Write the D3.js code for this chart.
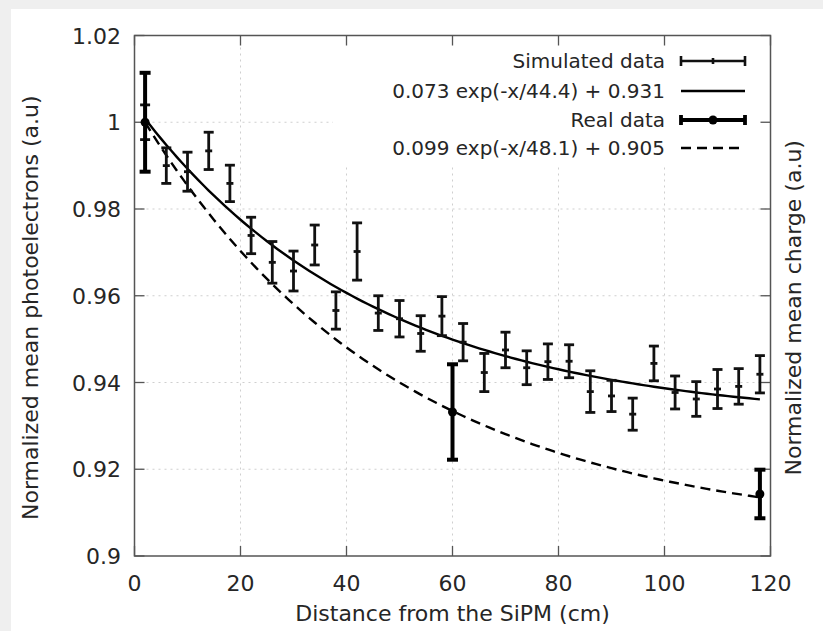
<!DOCTYPE html>
<html lang="en">
<head>
<meta charset="UTF-8">
<title>Normalized mean photoelectrons vs distance</title>
<style>
    body { margin: 0; background: #f0f0f0; }
    svg { display: block; font-family: 'DejaVu Sans', Verdana, sans-serif; }
    .tick-label { font-size: 22px; fill: #262626; }
    .title { font-size: 22px; fill: #262626; }
    .legend text { font-size: 20px; fill: #262626; }
</style>
</head>
<body>
<div id="chart"></div>
<script src="https://cdn.jsdelivr.net/npm/d3@7"></script>
<script>
// ---- data ----
const simX = [2, 6, 10, 14, 18, 22, 26, 30, 34, 38, 42, 46, 50, 54, 58,
              62, 66, 70, 74, 78, 82, 86, 90, 94, 98, 102, 106, 110, 114, 118];
const simY = [1.000, 0.9900, 0.9886, 0.9934, 0.9859, 0.9739, 0.9677, 0.9657, 0.9717, 0.9566,
              0.9702, 0.9560, 0.9547, 0.9513, 0.9553, 0.9493, 0.9423, 0.9475, 0.9434, 0.9448,
              0.9449, 0.9379, 0.9369, 0.9327, 0.9444, 0.9377, 0.9362, 0.9385, 0.9391, 0.9419];
const simErr = [0.0040, 0.0041, 0.0045, 0.0043, 0.0042, 0.0042, 0.0048, 0.0046, 0.0046, 0.0043,
                0.0066, 0.0040, 0.0042, 0.0041, 0.0045, 0.0043, 0.0044, 0.0041, 0.0039, 0.0041,
                0.0038, 0.0048, 0.0036, 0.0037, 0.0040, 0.0038, 0.0040, 0.0045, 0.0041, 0.0043];

const realX = [2, 60, 118];
const realY = [1.000, 0.9332, 0.9143];
const realErr = [0.0114, 0.0110, 0.0056];

// fit parameters as printed in the key: a exp(-x/b) + c
const fitSim = [0.073, 44.4, 0.931];
const fitReal = [0.099, 48.1, 0.905];
const fitRange = [2, 118];

const xTicks = [0, 20, 40, 60, 80, 100, 120];
const yTicks = [0.9, 0.92, 0.94, 0.96, 0.98, 1, 1.02];
const yTickLabels = ["0.9", "0.92", "0.94", "0.96", "0.98", "1", "1.02"];

const legendLabels = ["Simulated data", "0.073 exp(-x/44.4) + 0.931",
                      "Real data", "0.099 exp(-x/48.1) + 0.905"];

// ---- layout ----
const width = 823, height = 631;
const pLeft = 134.5, pRight = 770.5, pTop = 35.5, pBottom = 556;

const svg = d3.select("#chart").append("svg")
    .attr("width", width)
    .attr("height", height);

// card background
svg.append("rect").attr("width", width).attr("height", height).attr("fill", "#efefef");
svg.append("rect").attr("x", 11).attr("y", 9).attr("width", width - 11).attr("height", height - 9)
    .attr("fill", "#fff");

const x = d3.scaleLinear().domain([0, 120]).range([pLeft, pRight]);
const y = d3.scaleLinear().domain([0.9, 1.02]).range([pBottom, pTop]);

// grid
const grid = svg.append("g")
    .attr("stroke", "#cfcfcf")
    .attr("stroke-width", 1)
    .attr("stroke-dasharray", "2,4");
grid.selectAll(".gx").data(xTicks.slice(1, -1)).join("line")
    .attr("x1", d => x(d)).attr("x2", d => x(d))
    .attr("y1", pTop).attr("y2", pBottom);
grid.selectAll(".gy").data(yTicks.slice(1, -1)).join("line")
    .attr("x1", pLeft).attr("x2", pRight)
    .attr("y1", d => y(d)).attr("y2", d => y(d));

// opaque key area
svg.append("rect")
    .attr("x", 333).attr("y", 44).attr("width", pRight - 334).attr("height", 121)
    .attr("fill", "#fff");

// ticks (mirrored, inward)
const tickLen = 10;
const ticks = svg.append("g").attr("stroke", "#555").attr("stroke-width", 1.3);
xTicks.forEach(d => {
    ticks.append("line").attr("x1", x(d)).attr("x2", x(d)).attr("y1", pBottom).attr("y2", pBottom - tickLen);
    ticks.append("line").attr("x1", x(d)).attr("x2", x(d)).attr("y1", pTop).attr("y2", pTop + tickLen);
});
yTicks.forEach(d => {
    ticks.append("line").attr("x1", pLeft).attr("x2", pLeft + tickLen).attr("y1", y(d)).attr("y2", y(d));
    ticks.append("line").attr("x1", pRight).attr("x2", pRight - tickLen).attr("y1", y(d)).attr("y2", y(d));
});

// tick labels
svg.selectAll(".xl").data(xTicks).join("text")
    .attr("class", "tick-label")
    .attr("x", d => x(d)).attr("y", 590.5)
    .attr("text-anchor", "middle")
    .text(d => d);
svg.selectAll(".yl").data(yTicks).join("text")
    .attr("class", "tick-label")
    .attr("x", 121).attr("y", d => y(d) + 8)
    .attr("text-anchor", "end")
    .text((d, i) => yTickLabels[i]);

// axis titles
svg.append("text").attr("class", "title")
    .attr("x", (pLeft + pRight) / 2).attr("y", 621)
    .attr("text-anchor", "middle")
    .text("Distance from the SiPM (cm)");
svg.append("text").attr("class", "title")
    .attr("transform", `translate(38,${(pTop + pBottom) / 2 + 12}) rotate(-90)`)
    .attr("text-anchor", "middle")
    .text("Normalized mean photoelectrons (a.u)");
svg.append("text").attr("class", "title")
    .attr("transform", `translate(801,${(pTop + pBottom) / 2 + 12}) rotate(-90)`)
    .attr("text-anchor", "middle")
    .text("Normalized mean charge (a.u)");

// fit curves
const fitPoints = p => d3.range(fitRange[0], fitRange[1] + 0.5, 1)
    .map(v => [v, p[0] * Math.exp(-v / p[1]) + p[2]]);
const line = d3.line().x(d => x(d[0])).y(d => y(d[1]));

svg.append("path").datum(fitPoints(fitSim))
    .attr("d", line).attr("fill", "none")
    .attr("stroke", "#000").attr("stroke-width", 2.4);
svg.append("path").datum(fitPoints(fitReal))
    .attr("d", line).attr("fill", "none")
    .attr("stroke", "#000").attr("stroke-width", 2.4)
    .attr("stroke-dasharray", "10,6");

// simulated data error bars
const capW = 5;
const sim = svg.append("g").attr("stroke", "#111").attr("stroke-width", 2.8);
simX.forEach((xv, i) => {
    const cx = x(xv), y0 = y(simY[i] - simErr[i]), y1 = y(simY[i] + simErr[i]), cy = y(simY[i]);
    sim.append("line").attr("x1", cx).attr("x2", cx).attr("y1", y0).attr("y2", y1);
    sim.append("line").attr("x1", cx - capW).attr("x2", cx + capW).attr("y1", y0).attr("y2", y0);
    sim.append("line").attr("x1", cx - capW).attr("x2", cx + capW).attr("y1", y1).attr("y2", y1);
    sim.append("line").attr("x1", cx - 3.5).attr("x2", cx + 3.5).attr("y1", cy).attr("y2", cy);
});

// real data error bars
const real = svg.append("g").attr("stroke", "#000").attr("stroke-width", 4);
realX.forEach((xv, i) => {
    const cx = x(xv), y0 = y(realY[i] - realErr[i]), y1 = y(realY[i] + realErr[i]);
    real.append("line").attr("x1", cx).attr("x2", cx).attr("y1", y0).attr("y2", y1);
    real.append("line").attr("x1", cx - 5.5).attr("x2", cx + 5.5).attr("y1", y0).attr("y2", y0);
    real.append("line").attr("x1", cx - 5.5).attr("x2", cx + 5.5).attr("y1", y1).attr("y2", y1);
});
svg.selectAll(".rp").data(realX).join("circle")
    .attr("cx", d => x(d)).attr("cy", (d, i) => y(realY[i]))
    .attr("r", 4.5).attr("fill", "#000");

// frame
svg.append("rect")
    .attr("x", pLeft).attr("y", pTop).attr("width", pRight - pLeft).attr("height", pBottom - pTop)
    .attr("fill", "none").attr("stroke", "#555").attr("stroke-width", 1.5);

// key
const rowY = [61, 91, 120, 148];
const key = svg.append("g").attr("class", "legend");
key.selectAll("text").data(legendLabels).join("text")
    .attr("x", 665).attr("y", (d, i) => rowY[i] + 7)
    .attr("text-anchor", "end")
    .text(d => d);

const kx0 = 681, kx1 = 745;
// simulated sample
let g = key.append("g").attr("stroke", "#111").attr("stroke-width", 2.6);
g.append("line").attr("x1", kx0).attr("x2", kx1).attr("y1", rowY[0]).attr("y2", rowY[0]);
g.append("line").attr("x1", kx0).attr("x2", kx0).attr("y1", rowY[0] - 5).attr("y2", rowY[0] + 5);
g.append("line").attr("x1", kx1).attr("x2", kx1).attr("y1", rowY[0] - 5).attr("y2", rowY[0] + 5);
g.append("line").attr("x1", (kx0 + kx1) / 2).attr("x2", (kx0 + kx1) / 2).attr("y1", rowY[0] - 3).attr("y2", rowY[0] + 3);
// solid fit sample
key.append("line").attr("x1", kx0).attr("x2", kx1).attr("y1", rowY[1]).attr("y2", rowY[1])
    .attr("stroke", "#000").attr("stroke-width", 2.4);
// real sample
g = key.append("g").attr("stroke", "#000").attr("stroke-width", 3.8);
g.append("line").attr("x1", kx0).attr("x2", kx1).attr("y1", rowY[2]).attr("y2", rowY[2]);
g.append("line").attr("x1", kx0).attr("x2", kx0).attr("y1", rowY[2] - 5).attr("y2", rowY[2] + 5);
g.append("line").attr("x1", kx1).attr("x2", kx1).attr("y1", rowY[2] - 5).attr("y2", rowY[2] + 5);
key.append("circle").attr("cx", (kx0 + kx1) / 2).attr("cy", rowY[2]).attr("r", 4.5).attr("fill", "#000");
// dashed fit sample
key.append("line").attr("x1", kx0).attr("x2", kx1).attr("y1", rowY[3]).attr("y2", rowY[3])
    .attr("stroke", "#000").attr("stroke-width", 2.4).attr("stroke-dasharray", "10,6");
</script>
</body>
</html>
